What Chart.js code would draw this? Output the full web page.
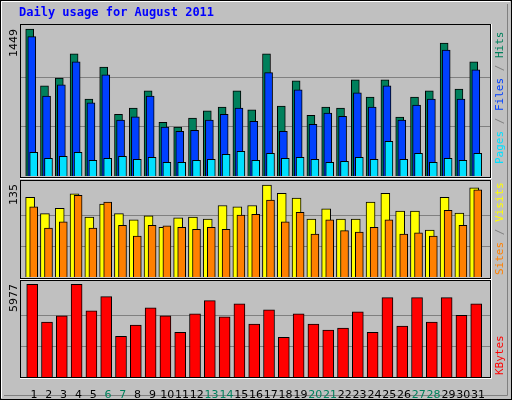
<!DOCTYPE html>
<html><head><meta charset="utf-8">
<script src="https://cdn.jsdelivr.net/npm/chart.js@4"></script>
<style>
body{margin:0;background:#fff}
#wrap{position:relative;width:512px;height:400px}
canvas{position:absolute;left:0}
</style></head><body>
<div id="wrap">
<canvas id="fondo" width="512" height="400" style="top:0"></canvas>
<canvas id="cTop" width="512" height="152" style="top:24px"></canvas>
<canvas id="cMid" width="512" height="96" style="top:181px"></canvas>
<canvas id="cBot" width="512" height="120" style="top:280px"></canvas>
</div>
<script>
const dias = Array.from({length: 31}, (_, i) => i + 1);
const fimDeSemana = [6, 7, 13, 14, 20, 21, 27, 28];
const hits = [1449, 889, 965, 1205, 757, 1074, 609, 669, 840, 530, 481, 570, 642, 678, 840, 652, 1205, 688, 939, 599, 678, 669, 948, 777, 948, 580, 777, 840, 1311, 856, 1126];
const files = [1373, 787, 899, 1126, 721, 998, 550, 583, 787, 481, 441, 451, 550, 609, 669, 540, 1018, 441, 850, 510, 619, 589, 820, 678, 889, 550, 698, 757, 1241, 757, 1047];
const pages = [234, 175, 194, 234, 155, 175, 194, 165, 184, 135, 135, 155, 165, 214, 244, 155, 224, 175, 184, 165, 135, 145, 184, 165, 342, 165, 224, 135, 175, 155, 224];
const visits = [117, 93, 101, 122, 88, 107, 93, 84, 90, 73, 87, 88, 85, 105, 103, 105, 135, 123, 116, 85, 100, 85, 85, 110, 123, 97, 97, 69, 117, 94, 131];
const sites = [103, 72, 81, 120, 72, 110, 76, 60, 76, 75, 73, 70, 73, 70, 91, 92, 113, 81, 95, 63, 84, 68, 66, 73, 84, 63, 65, 60, 98, 76, 128];
const kbytes = [5977, 3547, 3941, 5977, 4269, 5189, 2627, 3350, 4466, 3941, 2890, 4072, 4926, 3875, 4729, 3415, 4335, 2562, 4072, 3415, 3021, 3153, 4204, 2890, 5123, 3284, 5123, 3547, 5123, 3984, 4729];

// fundo, molduras e textos fixos
const ctx = document.getElementById('fondo').getContext('2d');
ctx.fillStyle = '#c0c0c0'; ctx.fillRect(0, 0, 512, 400);
ctx.strokeStyle = '#000'; ctx.strokeRect(0.5, 0.5, 511, 399);
ctx.strokeStyle = '#fff';
ctx.beginPath(); ctx.moveTo(1.5, 398); ctx.lineTo(1.5, 1.5); ctx.lineTo(510, 1.5); ctx.stroke();
ctx.strokeStyle = '#808080';
ctx.beginPath(); ctx.moveTo(507.5, 4); ctx.lineTo(507.5, 395.5); ctx.lineTo(4, 395.5); ctx.stroke();
[[24, 177], [180, 278], [280, 377]].forEach(([t, b]) => {
    ctx.strokeStyle = '#000'; ctx.strokeRect(20.5, t + 0.5, 470, b - t);
    ctx.strokeStyle = '#fff';
    ctx.beginPath(); ctx.moveTo(20, b + 1.5); ctx.lineTo(491.5, b + 1.5); ctx.lineTo(491.5, t); ctx.stroke();
});
ctx.font = 'bold 12px "DejaVu Sans Mono"'; ctx.fillStyle = '#0000ff';
ctx.textBaseline = 'alphabetic'; ctx.fillText('Daily usage for August 2011', 19, 16);

function rotulo(x, y, partes) {
    ctx.save(); ctx.translate(x, y); ctx.rotate(-Math.PI / 2);
    ctx.font = '11px "DejaVu Sans Mono"'; ctx.textBaseline = 'middle';
    let px = 0;
    partes.forEach(([t, c]) => { ctx.fillStyle = c; ctx.fillText(t, px, 0); px += ctx.measureText(t).width; });
    ctx.restore();
}
rotulo(500, 164, [['Pages', '#00e0ff'], [' / ', '#808080'], ['Files', '#0040ff'], [' / ', '#808080'], ['Hits', '#00805c']]);
rotulo(500, 275, [['Sites', '#ff8000'], [' / ', '#808080'], ['Visits', '#ffff00']]);
rotulo(500, 375, [['KBytes', '#ff0000']]);
ctx.save(); ctx.font = '11px "DejaVu Sans"'; ctx.fillStyle = '#000'; ctx.textBaseline = 'middle'; ctx.textAlign = 'right';
[['1449', 29], ['135', 184], ['5977', 284]].forEach(([t, y]) => {
    ctx.save(); ctx.translate(14, y); ctx.rotate(-Math.PI / 2); ctx.fillText(t, 0, 0); ctx.restore();
});
ctx.restore();

function serie(valores, dx, cor, largura, ordem) {
    return {
        data: valores.map((v, i) => ({ x: dias[i] + dx, y: v })),
        backgroundColor: cor, borderColor: '#000', borderWidth: 1,
        barThickness: largura, grouped: false, borderSkipped: 'bottom', order: ordem
    };
}

function grafico(id, datasets, ymax, grades, mostrarDias) {
    return new Chart(document.getElementById(id), {
        type: 'bar',
        data: { datasets },
        options: {
            responsive: false, animation: false, devicePixelRatio: 1,
            layout: { padding: { left: 21, right: 22, top: 0, bottom: 0 } },
            plugins: { legend: { display: false }, tooltip: { enabled: false } },
            scales: {
                x: {
                    type: 'linear', min: 0.123, max: 31.81, display: mostrarDias, offset: false,
                    grid: { display: false, offset: false }, border: { display: false },
                    afterBuildTicks: s => { s.ticks = dias.map(d => ({ value: d })); },
                    afterFit: s => { if (mostrarDias) s.height = 23; },
                    ticks: {
                        padding: 4, maxRotation: 0, autoSkip: false,
                        font: { family: 'DejaVu Sans', size: 11 },
                        color: c => fimDeSemana.includes(c.tick.value) ? '#00805c' : '#000',
                        callback: v => String(v)
                    }
                },
                y: {
                    min: 0, max: ymax,
                    ticks: { display: false },
                    grid: { color: '#808080', drawTicks: false },
                    border: { display: false },
                    afterFit: s => { s.width = 0; },
                    afterBuildTicks: s => { s.ticks = grades.map(v => ({ value: v })); }
                }
            }
        }
    });
}

grafico('cTop', [
    serie(hits, -0.29, '#00805c', 8, 3),
    serie(files, -0.15, '#0040ff', 8, 2),
    serie(pages, -0.02, '#00e0ff', 8, 1)
], 1498, [483, 966], false);

grafico('cMid', [
    serie(visits, -0.26, '#ffff00', 9, 2),
    serie(sites, -0.02, '#ff8000', 8, 1)
], 141, [45, 90], false);

grafico('cBot', [
    serie(kbytes, -0.12, '#ff0000', 11, 1)
], 6259, [1992, 3985], true);
</script>
</body></html>
